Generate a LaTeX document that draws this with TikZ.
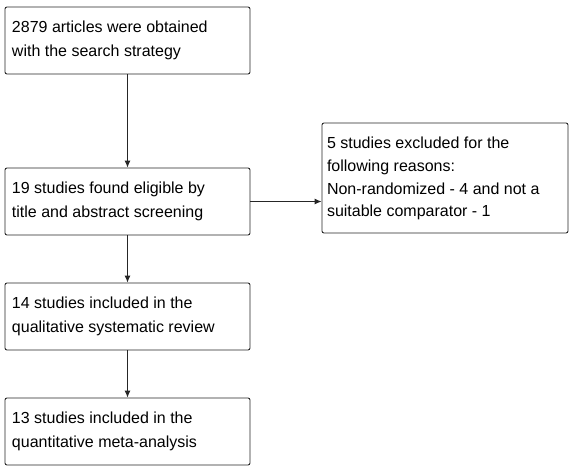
\documentclass[tikz,border=0pt]{standalone}
\usepackage{fontspec}
\setmainfont{Liberation Sans}
\usetikzlibrary{arrows.meta}
\newcommand{\bt}[3]{\parbox[c][#1][t]{#2}{\raggedright #3}}
\tikzset{
  flowbox/.style={draw=black!85, line width=0.9pt, rounded corners=2pt, inner xsep=7pt, inner ysep=0pt,
    font=\fontsize{16}{23.5}\selectfont, anchor=center},
  flowarrow/.style={draw=black!85, line width=0.9pt, -{Latex[length=7pt,width=6pt]}}
}
\begin{document}
\begin{tikzpicture}[x=1pt,y=-1pt]
\useasboundingbox (0,0) rectangle (575,467);
\node[flowbox, minimum width=245pt, minimum height=67pt] (a) at (127.5,40.5)
  {\bt{67pt}{231pt}{\vspace{14pt}2879 articles were obtained\\with the search strategy}};
\node[flowbox, minimum width=245pt, minimum height=67pt] (b) at (127.5,201.5)
  {\bt{67pt}{231pt}{\vspace{14pt}19 studies found eligible by\\title and abstract screening}};
\node[flowbox, minimum width=245pt, minimum height=67pt] (c) at (127.5,316.5)
  {\bt{67pt}{231pt}{\vspace{14pt}14 studies included in the\\qualitative systematic review}};
\node[flowbox, minimum width=245pt, minimum height=67pt] (d) at (127.5,431.5)
  {\bt{67pt}{231pt}{\vspace{14pt}13 studies included in the\\quantitative meta-analysis}};
\node[flowbox, minimum width=246pt, minimum height=110pt, inner xsep=5pt, font=\fontsize{16}{22.7}\selectfont] (e) at (445,178)
  {\bt{110pt}{236pt}{\vspace{14pt}5 studies excluded for the\\following reasons:\\Non-randomized - 4 and not a\\suitable comparator - 1}};
\draw[flowarrow] (a) -- (b);
\draw[flowarrow] (b) -- (c);
\draw[flowarrow] (c) -- (d);
\draw[flowarrow] (b.east) -- (e.west |- b.east);
\end{tikzpicture}
\end{document}
